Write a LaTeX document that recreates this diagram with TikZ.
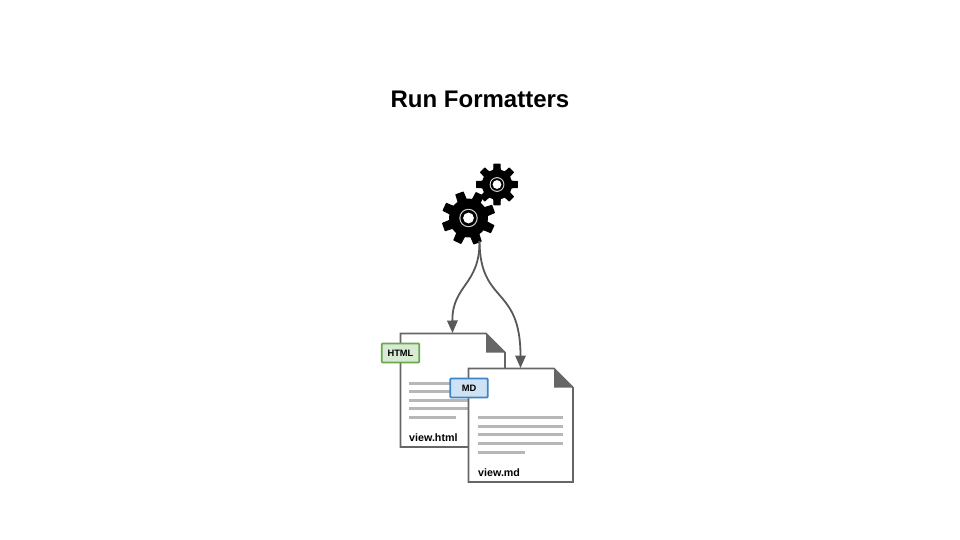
\documentclass[tikz,border=0pt]{standalone}
\usepackage{fontspec}
\setmainfont{Liberation Sans}
\usetikzlibrary{arrows.meta}
\definecolor{pageline}{HTML}{666666}
\definecolor{textline}{HTML}{B7B7B7}
\definecolor{connector}{HTML}{595959}
\definecolor{greenfill}{HTML}{D9EAD3}
\definecolor{greenedge}{HTML}{6AA84F}
\definecolor{bluefill}{HTML}{CFE2F3}
\definecolor{blueedge}{HTML}{3D85C6}
\definecolor{gearring}{HTML}{D8D8D8}
\tikzset{
  pagesheet/.style={draw=pageline,fill=white,line width=1.7pt,line join=miter},
  pagefold/.style={fill=pageline},
  bodyline/.style={draw=textline,line width=3pt},
  tagbox/.style={line width=1.8pt,rounded corners=0.8pt,minimum width=37.5pt,minimum height=19pt,inner sep=0pt,
    font=\fontsize{9.3}{11}\selectfont\bfseries,text=black},
  greentag/.style={tagbox,draw=greenedge,fill=greenfill},
  bluetag/.style={tagbox,draw=blueedge,fill=bluefill},
  filename/.style={anchor=base west,inner sep=0pt,font=\fontsize{10.7}{12}\selectfont\bfseries,text=black},
  flow/.style={draw=connector,line width=1.8pt,-{Triangle[length=12.5pt,width=10.5pt]}},
  gearbody/.style={fill=black,draw=black,line width=1pt,line join=round},
}
\newcommand{\gearshape}[4]{% x, y, outer radius, rotation
  \begin{scope}[shift={(#1,#2)},rotate=#4]
    \pgfmathsetmacro{\rout}{#3-0.5}
    \pgfmathsetmacro{\rin}{(#3-0.5)*0.72}
    \filldraw[gearbody] (-13:\rin)
      \foreach \a in {0,45,...,315} {
        -- (\a-13:\rin) -- (\a-8.5:\rout) -- (\a+8.5:\rout) -- (\a+13:\rin)
      } -- cycle;
  \end{scope}
}
\begin{document}
\begin{tikzpicture}[x=1pt,y=-1pt]
\useasboundingbox (0,0) rectangle (960,540);
\fill[white] (0,0) rectangle (960,540);

\node[inner sep=0pt,font=\fontsize{24}{28}\selectfont\bfseries] (title) at (480,99) {Run Formatters};

% gears
\gearshape{497}{184.5}{21}{0}
\fill[gearring] (497,184.5) circle (7.4);
\fill[black] (497,184.5) circle (6.3);
\fill[white] (497,184.5) circle (4.4);
\gearshape{468.5}{218}{27}{20}
\fill[gearring] (468.5,218) circle (9.2);
\fill[black] (468.5,218) circle (8.1);
\fill[white] (468.5,218) circle (5.4);

% first page
\draw[pagesheet] (400.5,333.5) -- (486,333.5) -- (505,352.5) -- (505,447) -- (400.5,447) -- cycle;
\fill[pagefold] (486,333) -- (505.5,352.5) -- (486,352.5) -- cycle;
\foreach \yy in {383,391.5,400,408.5} \draw[bodyline] (409,\yy) -- (494,\yy);
\draw[bodyline] (409,417) -- (456,417);
\node[filename] (htmlname) at (409,441.3) {view.html};
\node[greentag] (htmltag) at (400.5,353) {HTML};

% second page
\draw[pagesheet] (468.5,368.5) -- (554,368.5) -- (573,387.5) -- (573,482) -- (468.5,482) -- cycle;
\fill[pagefold] (554,368) -- (573.5,387.5) -- (554,387.5) -- cycle;
\foreach \yy in {417.5,426,434.5,443} \draw[bodyline] (478,\yy) -- (563,\yy);
\draw[bodyline] (478,452) -- (525,452);
\node[filename] (mdname) at (478,476.3) {view.md};
\node[bluetag] (mdtag) at (469,388) {MD};

% connectors
\coordinate (gearout) at (479.5,241);
\coordinate (htmlin) at (452.5,333);
\coordinate (mdin) at (520.5,368);
\draw[flow] (gearout) .. controls (480,285) and (452,285) .. (htmlin);
\draw[flow] (gearout) .. controls (480,305) and (520.5,285) .. (mdin);
\end{tikzpicture}
\end{document}
